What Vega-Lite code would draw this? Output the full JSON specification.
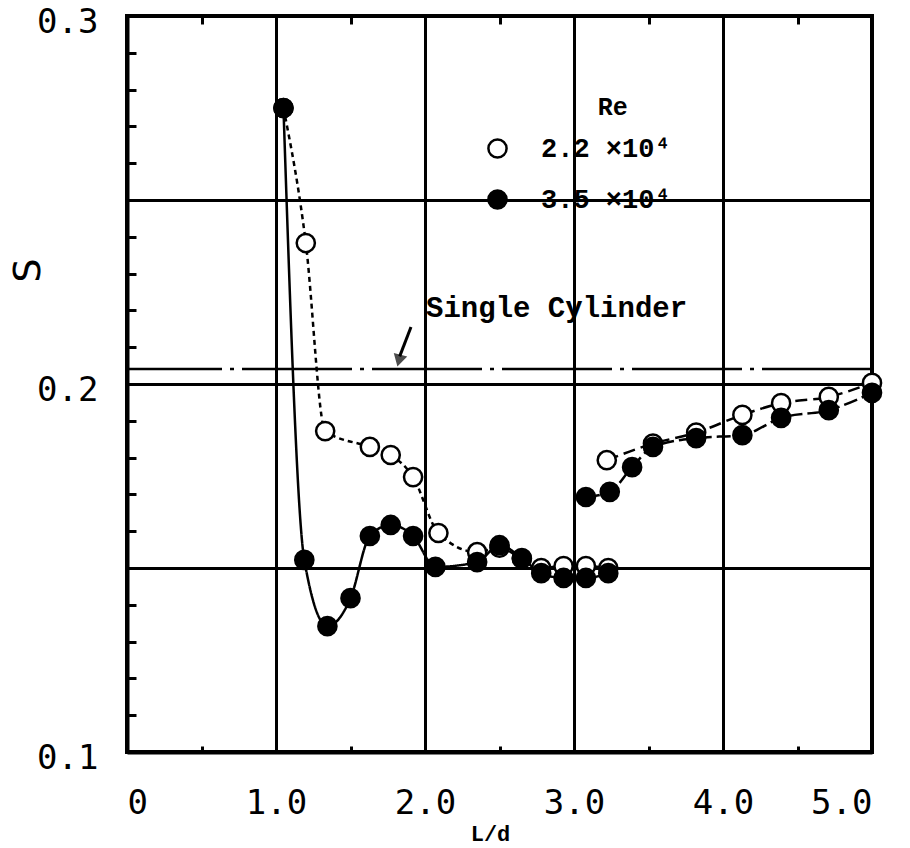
{
  "$schema": "https://vega.github.io/schema/vega-lite/v6.json",
  "width": 745,
  "height": 736,
  "autosize": {"type": "none"},
  "padding": {"left": 127, "top": 16, "right": 38, "bottom": 96},
  "background": "white",
  "config": {
    "view": {"stroke": "black", "strokeWidth": 4},
    "axis": {"domainColor": "black", "domainWidth": 4, "tickColor": "black", "tickWidth": 3, "gridColor": "black", "gridWidth": 3, "labelColor": "black", "titleColor": "black"}
  },
  "datasets": {
    "pts": [
      {"Re": "2.2 ×10⁴", "curve": "open lower", "L": 1.05, "S": 0.275},
      {"Re": "2.2 ×10⁴", "curve": "open lower", "L": 1.20, "S": 0.2383},
      {"Re": "2.2 ×10⁴", "curve": "open lower", "L": 1.33, "S": 0.1872},
      {"Re": "2.2 ×10⁴", "curve": "open lower", "L": 1.63, "S": 0.1829},
      {"Re": "2.2 ×10⁴", "curve": "open lower", "L": 1.77, "S": 0.1807},
      {"Re": "2.2 ×10⁴", "curve": "open lower", "L": 1.92, "S": 0.1747},
      {"Re": "2.2 ×10⁴", "curve": "open lower", "L": 2.09, "S": 0.1595},
      {"Re": "2.2 ×10⁴", "curve": "open lower", "L": 2.35, "S": 0.1543},
      {"Re": "2.2 ×10⁴", "curve": "open lower", "L": 2.50, "S": 0.1555},
      {"Re": "2.2 ×10⁴", "curve": "open lower", "L": 2.65, "S": 0.1525},
      {"Re": "2.2 ×10⁴", "curve": "open lower", "L": 2.78, "S": 0.1500},
      {"Re": "2.2 ×10⁴", "curve": "open lower", "L": 2.93, "S": 0.1505},
      {"Re": "2.2 ×10⁴", "curve": "open lower", "L": 3.08, "S": 0.1505},
      {"Re": "2.2 ×10⁴", "curve": "open lower", "L": 3.23, "S": 0.1500},
      {"Re": "2.2 ×10⁴", "curve": "open upper", "L": 3.22, "S": 0.1793},
      {"Re": "2.2 ×10⁴", "curve": "open upper", "L": 3.53, "S": 0.1838},
      {"Re": "2.2 ×10⁴", "curve": "open upper", "L": 3.82, "S": 0.1868},
      {"Re": "2.2 ×10⁴", "curve": "open upper", "L": 4.13, "S": 0.1916},
      {"Re": "2.2 ×10⁴", "curve": "open upper", "L": 4.39, "S": 0.1948},
      {"Re": "2.2 ×10⁴", "curve": "open upper", "L": 4.71, "S": 0.1965},
      {"Re": "2.2 ×10⁴", "curve": "open upper", "L": 5.00, "S": 0.2003},
      {"Re": "3.5 ×10⁴", "curve": "filled lower", "L": 1.05, "S": 0.2750},
      {"Re": "3.5 ×10⁴", "curve": "filled lower", "L": 1.19, "S": 0.1522},
      {"Re": "3.5 ×10⁴", "curve": "filled lower", "L": 1.345, "S": 0.1342},
      {"Re": "3.5 ×10⁴", "curve": "filled lower", "L": 1.50, "S": 0.1418},
      {"Re": "3.5 ×10⁴", "curve": "filled lower", "L": 1.63, "S": 0.1587},
      {"Re": "3.5 ×10⁴", "curve": "filled lower", "L": 1.77, "S": 0.1617},
      {"Re": "3.5 ×10⁴", "curve": "filled lower", "L": 1.92, "S": 0.1587},
      {"Re": "3.5 ×10⁴", "curve": "filled lower", "L": 2.07, "S": 0.1503},
      {"Re": "3.5 ×10⁴", "curve": "filled lower", "L": 2.35, "S": 0.1516},
      {"Re": "3.5 ×10⁴", "curve": "filled lower", "L": 2.50, "S": 0.1562},
      {"Re": "3.5 ×10⁴", "curve": "filled lower", "L": 2.65, "S": 0.1527},
      {"Re": "3.5 ×10⁴", "curve": "filled lower", "L": 2.78, "S": 0.1486},
      {"Re": "3.5 ×10⁴", "curve": "filled lower", "L": 2.93, "S": 0.1473},
      {"Re": "3.5 ×10⁴", "curve": "filled lower", "L": 3.08, "S": 0.1473},
      {"Re": "3.5 ×10⁴", "curve": "filled lower", "L": 3.23, "S": 0.1486},
      {"Re": "3.5 ×10⁴", "curve": "filled upper", "L": 3.08, "S": 0.1693},
      {"Re": "3.5 ×10⁴", "curve": "filled upper", "L": 3.24, "S": 0.1707},
      {"Re": "3.5 ×10⁴", "curve": "filled upper", "L": 3.39, "S": 0.1774},
      {"Re": "3.5 ×10⁴", "curve": "filled upper", "L": 3.53, "S": 0.1829},
      {"Re": "3.5 ×10⁴", "curve": "filled upper", "L": 3.82, "S": 0.1853},
      {"Re": "3.5 ×10⁴", "curve": "filled upper", "L": 4.13, "S": 0.1861},
      {"Re": "3.5 ×10⁴", "curve": "filled upper", "L": 4.39, "S": 0.1908},
      {"Re": "3.5 ×10⁴", "curve": "filled upper", "L": 4.71, "S": 0.1929},
      {"Re": "3.5 ×10⁴", "curve": "filled upper", "L": 5.00, "S": 0.1976}
    ]
  },
  "layer": [
    {
      "data": {"name": "pts"},
      "mark": {"type": "line", "stroke": "black", "strokeWidth": 2.5, "interpolate": "monotone"},
      "encoding": {
        "x": {"field": "L", "type": "quantitative", "scale": {"domain": [0, 5], "nice": false},
          "title": "L/d",
          "axis": {"orient": "bottom", "values": [0, 0.5, 1, 1.5, 2, 2.5, 3, 3.5, 4, 4.5, 5], "tickCount": 40,
            "tickSize": -6, "labelPadding": 40, "labelOverlap": false,
            "labelExpr": "datum.value % 1 == 0 ? (datum.value == 0 ? '0' : format(datum.value, '.1f')) : ''",
            "labelFont": "DejaVu Sans Mono", "labelFontSize": 34,
            "gridOpacity": {"condition": {"test": "datum.value > 0.5 && datum.value < 4.5 && datum.value % 1 == 0", "value": 1}, "value": 0},
            "grid": true,
            "titleFont": "Liberation Mono", "titleFontWeight": "bold", "titleFontSize": 22,
            "titleX": 363, "titleY": 81, "titleBaseline": "middle"}},
        "y": {"field": "S", "type": "quantitative", "scale": {"domain": [0.1, 0.3], "nice": false, "zero": false},
          "title": "S",
          "axis": {"values": [0.1, 0.11, 0.12, 0.13, 0.14, 0.15, 0.16, 0.17, 0.18, 0.19, 0.2, 0.21, 0.22, 0.23, 0.24, 0.25, 0.26, 0.27, 0.28, 0.29, 0.3],
            "tickCount": 60,
            "tickSize": -9, "labelPadding": 38, "labelOverlap": false, "labelOffset": 6,
            "labelExpr": "abs(datum.value - 0.1) < 0.001 ? '0.1' : abs(datum.value - 0.2) < 0.001 ? '0.2' : abs(datum.value - 0.3) < 0.001 ? '0.3' : ''",
            "labelFont": "DejaVu Sans Mono", "labelFontSize": 34,
            "grid": true,
            "gridOpacity": {"condition": {"test": "abs(datum.value - 0.15) < 0.001 || abs(datum.value - 0.2) < 0.001 || abs(datum.value - 0.25) < 0.001", "value": 1}, "value": 0},
            "titleFont": "DejaVu Sans", "titleFontSize": 38, "titleFontWeight": "normal",
            "titleX": -99, "titleY": 254, "titleBaseline": "middle", "titleAngle": -90}},
        "strokeDash": {"field": "curve", "type": "nominal",
          "scale": {"domain": ["filled lower", "filled upper", "open lower", "open upper"], "range": [[1, 0], [14, 5], [5, 4], [12, 6]]},
          "legend": null}
      }
    },
    {
      "data": {"values": [{"S": 0.2041}]},
      "mark": {"type": "rule", "stroke": "black", "strokeWidth": 2.5, "strokeDash": [110, 8, 4, 8]},
      "encoding": {"y": {"field": "S", "type": "quantitative"}}
    },
    {
      "data": {"values": [{"L": 1.906, "S": 0.2155, "L2": 1.83, "S2": 0.2075}]},
      "mark": {"type": "rule", "stroke": "black", "strokeWidth": 3},
      "encoding": {
        "x": {"field": "L", "type": "quantitative", "scale": {"domain": [0, 5], "nice": false},
          "axis": {"orient": "top", "values": [0.5, 1.5, 2.5, 3.5, 4.5], "tickCount": 40, "tickSize": -8, "tickWidth": 3, "labels": false, "domain": false, "grid": false, "title": null}},
        "y": {"field": "S", "type": "quantitative"},
        "x2": {"field": "L2"},
        "y2": {"field": "S2"}
      }
    },
    {
      "data": {"values": [{"L": 1.826, "S": 0.2065}]},
      "mark": {"type": "point", "shape": "triangle-down", "filled": true, "fill": "black", "stroke": "black", "size": 110, "angle": 15},
      "encoding": {
        "x": {"field": "L", "type": "quantitative", "axis": null},
        "y": {"field": "S", "type": "quantitative"}
      }
    },
    {
      "data": {"name": "pts"},
      "mark": {"type": "point", "filled": true, "stroke": "black", "strokeWidth": 2.5, "size": 330, "opacity": 1},
      "encoding": {
        "x": {"field": "L", "type": "quantitative", "axis": null},
        "y": {"field": "S", "type": "quantitative"},
        "fill": {"field": "Re", "type": "nominal",
          "scale": {"domain": ["2.2 ×10⁴", "3.5 ×10⁴"], "range": ["white", "black"]},
          "legend": {"orient": "none", "legendX": 357, "legendY": 119, "title": null, "padding": 0,
            "symbolType": "circle", "symbolSize": 330, "symbolStrokeColor": "black", "symbolStrokeWidth": 2.5,
            "labelFont": "Liberation Mono", "labelFontWeight": "bold", "labelFontSize": 27, "labelColor": "black",
            "labelOffset": 30, "rowPadding": 22}}
      }
    },
    {
      "data": {"values": [{"L": 2.883, "S": 0.2207, "txt": "Single Cylinder"}, {"L": 3.26, "S": 0.2753, "txt": "Re"}]},
      "mark": {"type": "text", "font": "Liberation Mono", "fontWeight": "bold", "fontSize": 29, "fill": "black", "align": "center", "baseline": "middle"},
      "encoding": {
        "x": {"field": "L", "type": "quantitative", "axis": null},
        "y": {"field": "S", "type": "quantitative"},
        "text": {"field": "txt"},
        "size": {"condition": {"test": "datum.txt == 'Re'", "value": 25}, "value": 29}
      }
    }
  ],
  "resolve": {"axis": {"x": "independent"}}
}
